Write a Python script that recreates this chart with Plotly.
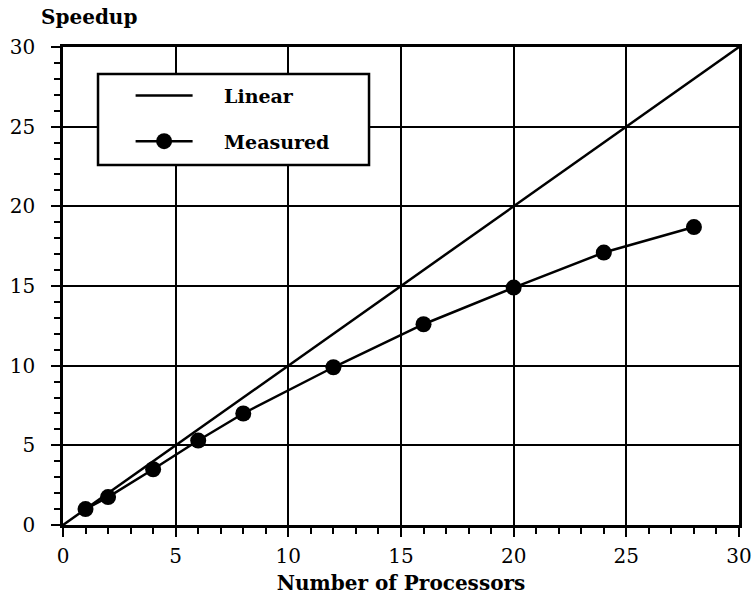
import plotly.graph_objects as go

linear_x = [0, 30]
linear_y = [0, 30]
procs = [1, 2, 4, 6, 8, 12, 16, 20, 24, 28]
speedup = [1.0, 1.75, 3.5, 5.3, 7.0, 9.9, 12.6, 14.9, 17.1, 18.7]

serif = "DejaVu Serif"
pad = "\u00a0" * 4

fig = go.Figure()
fig.add_trace(go.Scatter(x=linear_x, y=linear_y, mode="lines", name=pad + "Linear",
                         legendgroup="a",
                         line=dict(color="black", width=2.5)))
fig.add_trace(go.Scatter(x=procs, y=speedup, mode="lines+markers", name=pad + "Measured",
                         legendgroup="b",
                         line=dict(color="black", width=2.5),
                         marker=dict(color="black", size=16, symbol="circle")))

axis_common = dict(
    range=[0, 30], dtick=5, tick0=0,
    showgrid=True, gridcolor="black", gridwidth=2,
    showline=True, linecolor="black", linewidth=2.5, mirror=True,
    ticks="outside", ticklen=9, tickwidth=2, tickcolor="black",
    minor=dict(dtick=1, ticks="outside", ticklen=6, tickwidth=1.5, tickcolor="black", showgrid=False),
    zeroline=False, automargin=False,
    tickfont=dict(family=serif, size=20, color="black"),
)

fig.update_layout(
    width=754, height=595,
    margin=dict(l=63, r=15, t=47, b=70),
    paper_bgcolor="white", plot_bgcolor="white",
    xaxis=dict(**axis_common, ticklabelstandoff=2,
               title=dict(text="Number of Processors", standoff=10,
                          font=dict(family=serif, size=20, color="black", weight="bold"))),
    yaxis=dict(**axis_common, ticklabelstandoff=12),
    legend=dict(x=0.100, y=0.938, xanchor="left", yanchor="top",
                bgcolor="rgba(0,0,0,0)", borderwidth=0,
                font=dict(family=serif, size=19, color="black", weight="bold"),
                itemwidth=57, tracegroupgap=18,
                traceorder="grouped"),
    showlegend=True,
    shapes=[dict(type="rect", xref="paper", yref="paper",
                 x0=0.0518, x1=0.4527, y0=0.753, y1=0.9435,
                 line=dict(color="black", width=2.5), fillcolor="white", layer="above")],
    annotations=[dict(text="Speedup", xref="paper", yref="paper", x=-0.036, y=1.033,
                      xanchor="left", yanchor="bottom", showarrow=False,
                      font=dict(family=serif, size=20, color="black", weight="bold"))],
)

fig.write_html("out.html", config={"displayModeBar": False},
               post_script="document.body.style.margin='0';document.body.style.overflow='hidden';")
